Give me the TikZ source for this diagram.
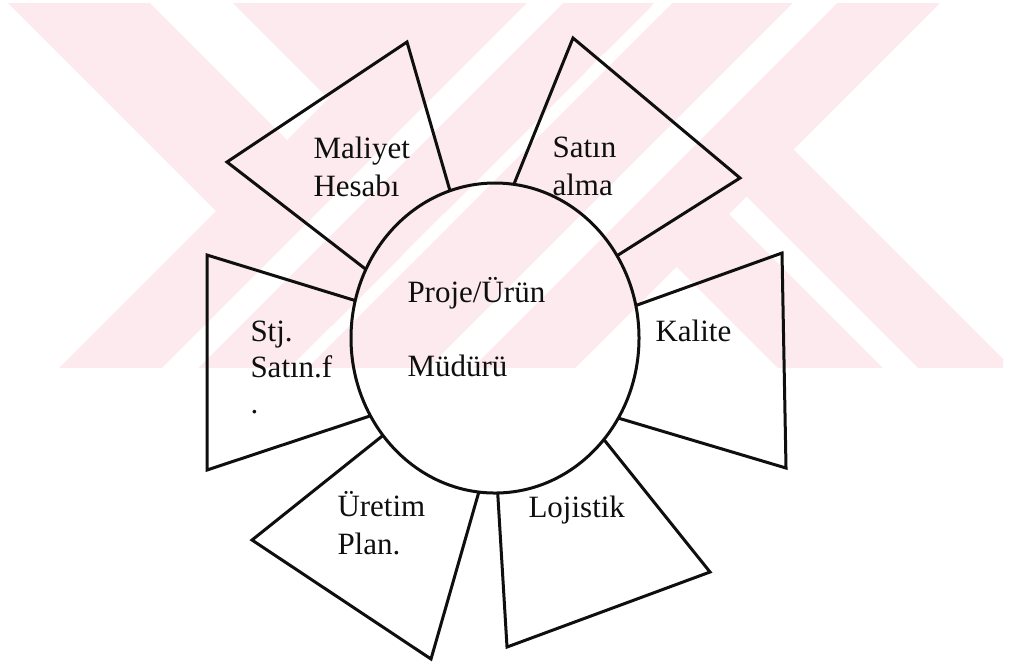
\documentclass[tikz,border=0pt]{standalone}
\usepackage{fontspec}
\setmainfont{Liberation Serif}
\usetikzlibrary{shapes.geometric}
\definecolor{ink}{RGB}{15,15,15}
\definecolor{blush}{RGB}{252,234,238}
\tikzset{
  hub/.style={ellipse,draw=ink,line width=1.2pt,minimum width=115.2pt,
    minimum height=124pt,inner sep=0pt,outer sep=0pt},
  petal/.style={draw=ink,line width=1.2pt},
  tag/.style={font=\fontsize{12.4}{15.2}\selectfont,text=ink,align=left,
    inner sep=0pt,anchor=base west},
  % faint watermark bands
  slash/.style={fill=#1},
  slash/.default=blush,
}

\begin{document}
\begin{tikzpicture}[x=0.4pt,y=-0.4pt]
  \useasboundingbox (0,0) rectangle (1010,663);
  % watermark
  \begin{scope}
    \clip (7,3) rectangle (1003,367);
    \foreach \a/\b in {5/147,410/515,550/644}
      \fill[slash] (\a,0) -- (\b,0) -- (\b+400,400) -- (\a+400,400) -- cycle;
    \begin{scope}
      \clip (-100,0) -- (943,0) -- (543,400) -- (-100,400) -- cycle;
      \fill[slash] (230,0) -- (420,0) -- (820,400) -- (630,400) -- cycle;
    \end{scope}
    \foreach \a/\b in {427/657,675/943}
      \fill[slash] (\a,0) -- (\b,0) -- (\b-400,400) -- (\a-400,400) -- cycle;
    \foreach \a/\b in {530/566,658/675,796/840}
      \fill[white] (\a,0) -- (\b,0) -- (\b-400,400) -- (\a-400,400) -- cycle;
  \end{scope}

  \node[hub] (mgr) at (495,338) {};

  \draw[petal] (mgr.152.6) -- (227,162) -- (407,42) -- (mgr.107.6);
  \draw[petal] (mgr.83) -- (573,38) -- (740,178) -- (mgr.34.9);
  \draw[petal] (mgr.13.8) -- (782,253) -- (786,468) -- (mgr.-33.5);
  \draw[petal] (mgr.165.6) -- (207,255) -- (207,470) -- (mgr.212.9);
  \draw[petal] (mgr.221.2) -- (252,540) -- (431,659) -- (mgr.264.1);
  \draw[petal] (mgr.271.8) -- (507,647) -- (710,572) -- (mgr.317.4);

  \node[tag] (hub-txt) at (407,376) {Proje/Ürün\\[14.4pt]Müdürü};
  \node[tag] (cost) at (313,196) {Maliyet\\Hesabı};
  \node[tag] (buy) at (552,195) {Satın\\alma};
  \node[tag] (qual) at (655,341) {Kalite};
  \node[tag] (strat) at (250,413) {Stj.\\[-0.8pt]Satın.f\\[-0.8pt].};
  \node[tag] (plan) at (337,554) {Üretim\\Plan.};
  \node[tag] (logi) at (528,517) {Lojistik};
\end{tikzpicture}
\end{document}
